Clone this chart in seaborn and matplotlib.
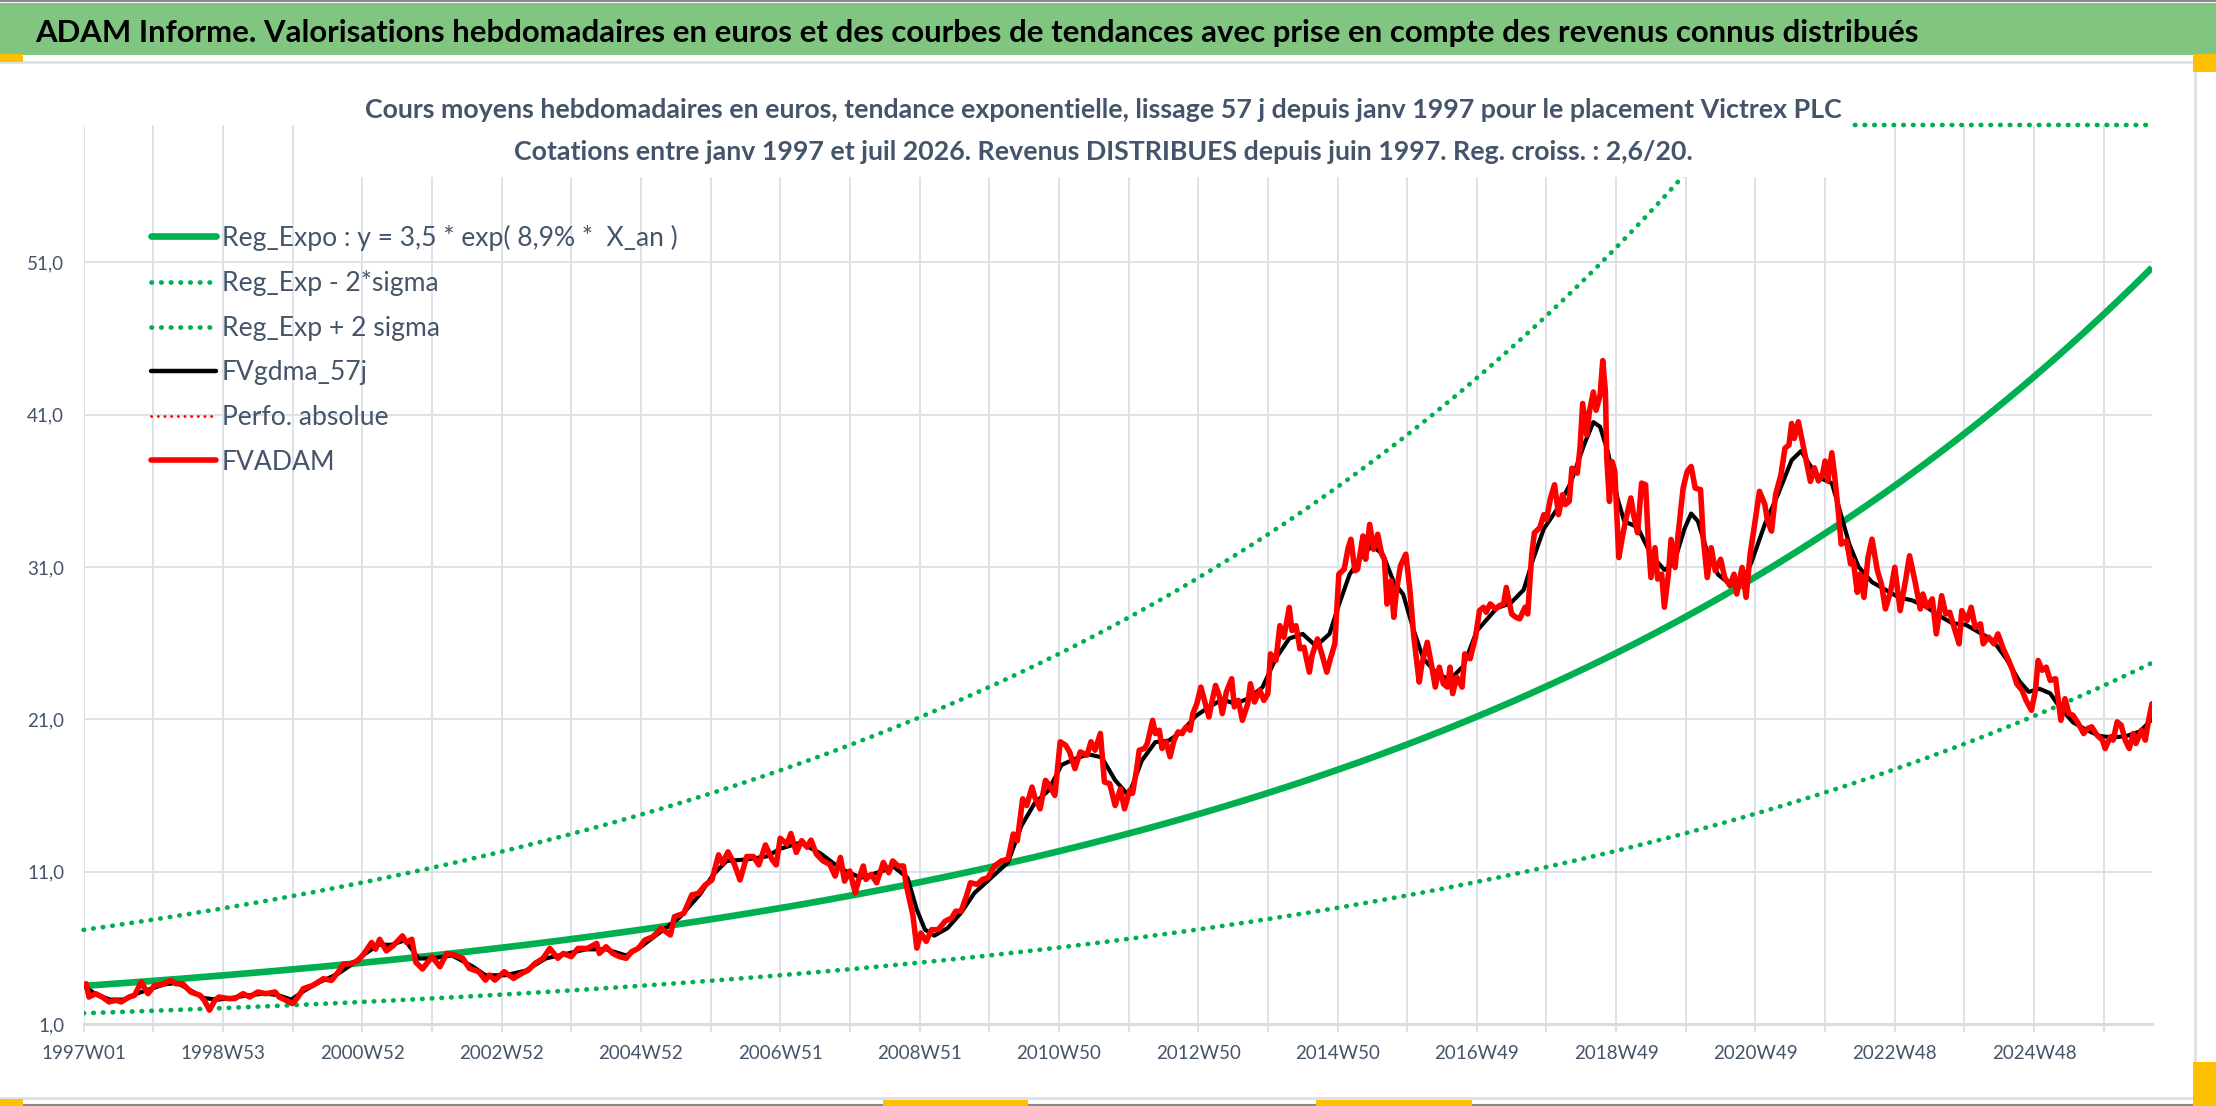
import numpy as np
import pandas as pd
import matplotlib
matplotlib.use("Agg")
import matplotlib.pyplot as plt
import seaborn as sns
from matplotlib import font_manager
from matplotlib.lines import Line2D
from matplotlib.patches import Rectangle

# ---------------- data ----------------
TITLE = ("ADAM Informe. Valorisations hebdomadaires en euros et des courbes de tendances "
         "avec prise en compte des revenus connus distribués")
SUBTITLE_1 = ("Cours moyens hebdomadaires en euros, tendance exponentielle, lissage 57 j "
              "depuis janv 1997 pour le placement Victrex PLC")
SUBTITLE_2 = ("Cotations entre janv 1997 et juil 2026. Revenus DISTRIBUES depuis juin 1997. "
              "Reg. croiss. : 2,6/20.")

SERIES_LABELS = ["Reg_Expo : y = 3,5 * exp( 8,9% *  X_an )", "Reg_Exp - 2*sigma",
                 "Reg_Exp + 2 sigma", "FVgdma_57j", "Perfo. absolue", "FVADAM"]

X_TICK_LABELS = ["1997W01", "1998W53", "2000W52", "2002W52", "2004W52", "2006W51",
                 "2008W51", "2010W50", "2012W50", "2014W50", "2016W49", "2018W49",
                 "2020W49", "2022W48", "2024W48"]
Y_TICKS = [1, 11, 21, 31, 41, 51]
Y_TICK_LABELS = ["1,0", "11,0", "21,0", "31,0", "41,0", "51,0"]

N_WEEKS = 1545          # 1997W01 .. juil 2026
WEEKS_PER_YEAR = 52.18
REG_A = 3.5             # regression start value
REG_RATE = 0.0903       # growth
SIGMA_FACTOR = 2.05     # exp(2*sigma), ratio between the trend and the dotted bands
Y_MIN, Y_MAX = 1.0, 60.0

# FVADAM (red) : week index -> value
RED_WEEKS = [0, 2, 4, 9, 14, 19, 24, 28, 34, 38, 43, 48, 53, 59, 65, 69, 74, 80, 87, 90,
             94, 98, 101, 108, 113, 119, 124, 130, 136, 143, 146, 151, 156, 160, 164, 171,
             179, 185, 190, 194, 199, 205, 210, 215, 218, 221, 226, 231, 238, 241, 245, 248,
             253, 260, 266, 271, 277, 283, 288, 295, 300, 303, 307, 314, 321, 327, 332, 337,
             343, 348, 354, 358, 364, 369, 376, 383, 385, 390, 395, 400, 405, 409, 414, 419,
             425, 431, 438, 441, 448, 454, 459, 464, 469, 474, 477, 481, 486, 490, 495, 500,
             504, 509, 514, 517, 520, 525, 528, 532, 536, 540, 543, 547, 552, 557, 561, 565,
             568, 572, 576, 579, 582, 584, 588, 592, 597, 601, 604, 608, 612, 614, 617, 619,
             622, 625, 629, 633, 638, 643, 648, 651, 655, 659, 662, 667, 671, 675, 680, 685,
             690, 694, 697, 701, 704, 708, 710, 714, 718, 721, 725, 729, 733, 736, 740, 744,
             749, 752, 755, 759, 762, 766, 770, 774, 777, 781, 783, 786, 788, 792, 794, 798,
             800, 803, 805, 808, 811, 814, 817, 820, 823, 826, 828, 831, 834, 838, 840, 843,
             845, 848, 850, 853, 857, 859, 862, 865, 869, 871, 874, 878, 881, 884, 886, 890,
             893, 896, 900, 902, 905, 908, 911, 915, 917, 921, 925, 928, 931, 934, 937, 941,
             944, 946, 949, 951, 955, 957, 960, 963, 966, 969, 971, 973, 976, 978, 980, 983,
             987, 990, 993, 997, 999, 1003, 1006, 1009, 1012, 1015, 1018, 1020, 1022, 1025,
             1029, 1031, 1035, 1039, 1042, 1045, 1047, 1050, 1054, 1057, 1060, 1062, 1066,
             1069, 1072, 1076, 1078, 1081, 1083, 1087, 1090, 1092, 1095, 1098, 1101, 1104,
             1106, 1109, 1111, 1115, 1117, 1119, 1122, 1124, 1127, 1129, 1132, 1134, 1136,
             1137, 1139, 1141, 1143, 1146, 1149, 1152, 1155, 1157, 1160, 1163, 1166, 1168,
             1170, 1173, 1175, 1178, 1180, 1183, 1185, 1188, 1190, 1194, 1197, 1200, 1203,
             1207, 1209, 1212, 1215, 1218, 1222, 1225, 1229, 1232, 1234, 1238, 1241, 1244,
             1247, 1251, 1255, 1257, 1260, 1263, 1267, 1270, 1273, 1275, 1277, 1280, 1283,
             1286, 1289, 1292, 1295, 1298, 1300, 1302, 1305, 1307, 1310, 1312, 1316, 1319,
             1321, 1324, 1326, 1329, 1332, 1335, 1339, 1342, 1345, 1349, 1352, 1356, 1360,
             1363, 1367, 1371, 1373, 1376, 1380, 1383, 1387, 1390, 1393, 1397, 1400, 1402,
             1406, 1409, 1412, 1416, 1418, 1422, 1426, 1429, 1433, 1437, 1440, 1443, 1447,
             1450, 1454, 1457, 1459, 1462, 1465, 1468, 1472, 1476, 1479, 1482, 1485, 1489,
             1493, 1496, 1499, 1503, 1507, 1509, 1513, 1515, 1518, 1521, 1524, 1527, 1530,
             1532, 1536, 1539, 1541, 1544]
RED_VALUES = [3.55, 3.64, 2.77, 2.99, 2.77, 2.45, 2.56, 2.45, 2.77, 2.88, 3.75, 2.99, 3.53,
              3.6, 3.86, 3.64, 3.64, 3.1, 2.88, 2.56, 1.91, 2.56, 2.77, 2.67, 2.67, 2.99, 2.77,
              3.1, 2.99, 3.1, 2.77, 2.56, 2.34, 2.77, 3.32, 3.53, 3.97, 3.86, 4.4, 4.94, 4.94,
              5.16, 5.7, 6.35, 5.91, 6.56, 5.8, 6.13, 6.78, 6.35, 6.56, 5.05, 4.61, 5.42, 4.76,
              5.63, 5.52, 5.31, 4.65, 4.43, 3.88, 4.21, 3.88, 4.43, 3.99, 4.32, 4.54, 4.98,
              5.31, 5.96, 5.31, 5.63, 5.42, 5.96, 5.96, 6.29, 5.63, 6.07, 5.63, 5.42, 5.31,
              5.74, 5.96, 6.51, 6.73, 7.28, 6.84, 8.04, 8.26, 9.47, 9.58, 10.12, 10.45, 12.1,
              11.55, 12.3, 11.44, 10.45, 11.99, 11.99, 11.44, 12.75, 11.77, 11.44, 13.19, 12.8,
              13.5, 12.26, 13.03, 12.6, 13.07, 12.15, 11.7, 11.48, 10.71, 11.93, 10.38, 11.04,
              9.61, 10.6, 11.37, 10.49, 10.82, 10.27, 11.6, 10.93, 11.7, 11.37, 11.37, 10.16,
              8.95, 8.18, 5.98, 6.97, 6.42, 7.19, 7.19, 7.74, 7.96, 8.4, 8.4, 9.39, 10.27,
              10.16, 10.49, 10.6, 11.37, 11.7, 11.81, 13.47, 13.03, 15.78, 15.34, 16.55, 15.89,
              15.12, 16.99, 16.66, 16.0, 19.52, 19.3, 18.86, 17.76, 18.86, 18.64, 19.52, 18.97,
              20.07, 16.88, 16.77, 15.34, 16.44, 15.12, 16.36, 16.14, 17.67, 18.97, 19.08,
              19.41, 20.93, 20.06, 20.28, 19.08, 19.52, 18.54, 19.63, 20.17, 20.06, 20.5,
              20.28, 21.37, 22.02, 23.11, 21.81, 21.15, 22.46, 23.22, 22.46, 21.37, 22.78,
              23.66, 21.81, 22.24, 20.93, 22.02, 23.33, 22.13, 22.9, 22.24, 22.68, 25.29,
              24.86, 27.14, 26.38, 28.34, 26.82, 27.14, 25.62, 25.73, 24.09, 25.18, 26.27,
              25.07, 24.09, 25.07, 25.95, 30.52, 30.85, 32.26, 32.81, 30.74, 30.85, 33.03,
              31.5, 33.79, 32.15, 33.14, 31.83, 31.5, 28.56, 30.08, 27.69, 29.43, 31.07, 31.83,
              29.54, 26.38, 23.44, 24.64, 26.05, 24.64, 23.11, 24.42, 23.33, 23.11, 24.42,
              22.68, 23.77, 23.11, 25.29, 24.97, 26.38, 28.13, 28.35, 28.02, 28.57, 28.24,
              28.46, 28.57, 29.65, 27.91, 27.7, 27.59, 28.35, 27.91, 31.83, 33.24, 33.57,
              34.43, 34.11, 35.52, 36.39, 34.43, 35.74, 35.09, 35.3, 37.48, 37.15, 38.78,
              41.72, 39.65, 41.17, 42.48, 41.28, 42.26, 44.54, 42.48, 38.13, 35.3, 37.91,
              37.26, 31.61, 33.13, 34.43, 35.52, 34.43, 33.24, 36.5, 36.39, 32.7, 30.3, 32.26,
              30.2, 30.52, 28.35, 30.52, 32.8, 30.96, 32.91, 36.17, 37.26, 37.59, 36.17, 36.07,
              32.91, 30.3, 32.26, 30.74, 31.5, 30.3, 29.76, 30.52, 29.22, 30.96, 29.0, 31.83,
              33.57, 35.96, 35.09, 34.0, 33.35, 35.74, 37.04, 38.78, 39.0, 40.41, 39.43, 40.52,
              39.22, 37.91, 36.61, 37.5, 36.64, 37.07, 37.95, 36.64, 38.49, 37.07, 34.46,
              32.49, 32.71, 31.19, 31.4, 29.33, 30.53, 29.0, 31.62, 32.82, 30.75, 29.88, 28.24,
              29.44, 30.97, 28.13, 30.09, 31.73, 30.09, 28.24, 29.22, 28.35, 28.9, 26.6, 29.11,
              27.91, 28.02, 26.82, 25.95, 28.13, 27.48, 28.35, 27.04, 27.26, 25.95, 26.39,
              25.95, 26.6, 25.62, 24.86, 24.21, 23.33, 22.9, 22.24, 21.59, 22.9, 24.86, 24.21,
              24.42, 23.55, 23.66, 20.93, 22.35, 21.37, 21.26, 20.72, 20.06, 20.4, 20.5, 19.95,
              19.63, 19.08, 19.85, 19.63, 20.83, 20.61, 19.63, 19.08, 20.06, 19.41, 20.28,
              19.63, 20.72, 22.02]

# FVgdma_57j (black, smoothed) : week index -> value
BLACK_WEEKS = [0, 10, 20, 30, 40, 50, 60, 70, 80, 90, 100, 110, 120, 135, 145, 155, 165, 175,
               190, 200, 210, 220, 230, 240, 250, 260, 275, 290, 300, 315, 330, 345, 360, 375,
               390, 405, 415, 430, 445, 460, 470, 480, 495, 510, 520, 535, 550, 565, 580, 595,
               605, 615, 622, 628, 635, 645, 655, 665, 675, 690, 700, 710, 720, 730, 740, 750,
               760, 770, 780, 790, 800, 810, 820, 830, 840, 850, 860, 870, 880, 890, 900, 910,
               920, 930, 937, 945, 955, 962, 970, 978, 985, 993, 1000, 1010, 1020, 1030, 1040,
               1055, 1065, 1075, 1082, 1090, 1100, 1110, 1120, 1127, 1132, 1138, 1145, 1150,
               1160, 1170, 1180, 1187, 1195, 1200, 1205, 1212, 1220, 1230, 1238, 1245, 1255,
               1265, 1275, 1282, 1290, 1297, 1305, 1310, 1318, 1325, 1335, 1345, 1355, 1365,
               1375, 1385, 1395, 1405, 1415, 1425, 1435, 1445, 1452, 1460, 1468, 1475, 1485,
               1495, 1505, 1515, 1525, 1535, 1544]
BLACK_VALUES = [3.5, 2.9, 2.6, 2.6, 3.0, 3.3, 3.6, 3.7, 3.2, 2.7, 2.6, 2.7, 2.85, 3.0, 2.9,
                2.6, 3.2, 3.7, 4.3, 4.9, 5.6, 6.2, 6.2, 6.5, 5.3, 5.3, 5.5, 4.8, 4.2, 4.2, 4.5,
                5.3, 5.6, 5.9, 5.9, 5.5, 6.0, 7.0, 8.0, 9.5, 10.8, 11.7, 11.8, 12.0, 12.5, 12.9,
                12.2, 11.2, 10.6, 11.0, 11.3, 10.6, 8.5, 7.2, 6.8, 7.3, 8.3, 9.6, 10.4, 11.6,
                14.0, 15.5, 16.3, 18.0, 18.4, 18.7, 18.5, 17.0, 16.0, 18.3, 19.5, 19.6, 20.2,
                21.2, 21.8, 22.3, 22.0, 22.4, 23.1, 25.0, 26.3, 26.6, 25.8, 26.6, 28.5, 30.5,
                31.8, 32.4, 31.8, 30.0, 29.2, 26.8, 25.0, 24.0, 23.6, 24.5, 26.8, 28.3, 28.6,
                29.5, 31.5, 33.5, 34.8, 36.5, 39.0, 40.5, 40.2, 38.5, 35.5, 34.0, 33.6, 31.8,
                30.8, 31.2, 33.5, 34.5, 34.0, 32.0, 30.5, 29.8, 30.0, 31.3, 33.8, 35.8, 38.0,
                38.6, 37.5, 36.8, 36.5, 35.0, 32.5, 31.0, 30.0, 29.5, 29.0, 28.8, 28.4, 27.8,
                27.3, 27.2, 26.7, 26.2, 25.0, 23.5, 22.8, 23.0, 22.7, 21.8, 20.8, 20.3, 19.9,
                19.8, 19.9, 20.2, 21.0]

# ---------------- styling ----------------
GREEN = "#00B050"
RED = "#FF0000"
TEXT = "#44546A"
GRID = "#DEE1E7"
W_PX, H_PX = 2216, 1106

sns.set_theme(style="white")

# choose the narrowest installed sans family (the original uses a condensed font)
ttf = font_manager.fontManager.ttflist
names = {f.name for f in ttf}
candidates = []
for fam in ["Liberation Sans Narrow", "Lato", "Roboto", "Liberation Sans"]:
    if fam in names:
        candidates.append((fam, "normal"))
if any(f.name == "DejaVu Sans" and "ondensed" in f.fname for f in ttf):
    candidates.append(("DejaVu Sans", "condensed"))
if not candidates:
    candidates = [("DejaVu Sans", "normal")]

fig = plt.figure(figsize=(W_PX / 100, H_PX / 100), dpi=100)
fig.patch.set_facecolor("white")
renderer = fig.canvas.get_renderer()


def measure(s, size, weight="normal", fam=None, stretch=None):
    kw = {}
    if fam is not None:
        kw["family"] = [fam, "DejaVu Sans"]
    if stretch is not None:
        kw["fontstretch"] = stretch
    t = fig.text(0, 0, s, fontsize=size, fontweight=weight, **kw)
    bb = t.get_window_extent(renderer)
    t.remove()
    return bb.width, bb.height


best = min(candidates, key=lambda c: measure(SUBTITLE_1, 20, "bold", c[0], c[1])[0])
FONT, STRETCH = best
plt.rcParams["font.family"] = [FONT, "DejaVu Sans"]
plt.rcParams["font.stretch"] = STRETCH


def fit(s, target_px, weight="normal"):
    w, _ = measure(s, 20, weight)
    return 20 * target_px / w


FS_TITLE = fit(TITLE, 1882, "bold")
FS_SUB = fit(SUBTITLE_1, 1479, "bold")
FS_LEG = fit(SERIES_LABELS[0], 456)
FS_XT = fit("1997W01", 85)
FS_YT = fit("51,0", 37)


def fx(px):
    return px / W_PX


def fy(py):
    return 1 - py / H_PX


ax_left, ax_right, ax_top, ax_bottom = 83.6, 2152, 125, 1024
ax = fig.add_axes([fx(ax_left), fy(ax_bottom), fx(ax_right - ax_left),
                   (ax_bottom - ax_top) / H_PX])
ax.set_facecolor("none")

weeks = np.arange(N_WEEKS)
years = weeks / WEEKS_PER_YEAR
reg = REG_A * np.exp(REG_RATE * years)
reg_lo = reg / SIGMA_FACTOR
reg_hi = np.minimum(reg * SIGMA_FACTOR, Y_MAX)

dot_style = dict(linestyle=(0, (0.1, 1.95)), dash_capstyle="round", linewidth=3.4,
                 color=GREEN)

sns.lineplot(x=weeks, y=reg, ax=ax, color=GREEN, linewidth=4.8, solid_capstyle="butt",
             estimator=None, sort=False, zorder=3)
sns.lineplot(x=weeks, y=reg_lo, ax=ax, estimator=None, sort=False, zorder=3, **dot_style)
sns.lineplot(x=weeks, y=reg_hi, ax=ax, estimator=None, sort=False, zorder=3, clip_on=False,
             **dot_style)
sns.lineplot(x=BLACK_WEEKS, y=BLACK_VALUES, ax=ax, color="black", linewidth=3.0,
             estimator=None, sort=False, zorder=4)
sns.lineplot(x=RED_WEEKS, y=RED_VALUES, ax=ax, color=RED, linewidth=4.0,
             estimator=None, sort=False, zorder=5)

ax.set_xlim(0, N_WEEKS - 1)
ax.set_ylim(Y_MIN, Y_MAX)

xt = np.arange(0, N_WEEKS, 52)
ax.set_xticks(xt)
ax.set_xticklabels([X_TICK_LABELS[i // 2] if i % 2 == 0 else "" for i in range(len(xt))])
ax.set_yticks(Y_TICKS)
ax.set_yticklabels(Y_TICK_LABELS)
ax.tick_params(axis="x", direction="out", length=6, width=1.4, color=GRID, labelsize=FS_XT,
               labelcolor=TEXT, pad=9, bottom=True)
ax.tick_params(axis="y", length=0, labelsize=FS_YT, labelcolor=TEXT, pad=14)
ax.grid(True, color=GRID, linewidth=1.4)
ax.set_axisbelow(True)
for s in ["left", "right", "top"]:
    ax.spines[s].set_visible(False)
ax.spines["bottom"].set_color("#D9DCE2")
ax.spines["bottom"].set_linewidth(2.2)
ax.set_xlabel("")
ax.set_ylabel("")

# legend
handles = [
    Line2D([], [], color=GREEN, linewidth=4.8, solid_capstyle="round"),
    Line2D([], [], **dot_style),
    Line2D([], [], **dot_style),
    Line2D([], [], color="black", linewidth=3.2, solid_capstyle="round"),
    Line2D([], [], color=RED, linewidth=2.0, linestyle=(0, (0.1, 2.3)), dash_capstyle="round"),
    Line2D([], [], color=RED, linewidth=4.0, solid_capstyle="round"),
]
fs_leg_px = FS_LEG * 100 / 72
_, row_h = measure("Reg_Expo", FS_LEG)
ROW_STEP = 44.6
leg = ax.legend(handles, SERIES_LABELS, loc="upper left",
                bbox_to_anchor=(fx(151), fy(237 - row_h / 2)),
                bbox_transform=fig.transFigure, frameon=False, borderpad=0, borderaxespad=0,
                handlelength=65 / fs_leg_px, handletextpad=6 / fs_leg_px,
                labelspacing=max(ROW_STEP - row_h, 0) / fs_leg_px, fontsize=FS_LEG)
for t in leg.get_texts():
    t.set_color(TEXT)

# subtitle box (white, hides gridlines behind)
fig.add_artist(Rectangle((fx(353), fy(177)), fx(1850 - 353), (177 - 82) / H_PX,
                         transform=fig.transFigure, facecolor="white", edgecolor="none",
                         zorder=10))
fig.text(fx(1103), fy(118), SUBTITLE_1, ha="center", va="baseline", fontsize=FS_SUB,
         fontweight="bold", color=TEXT, zorder=11)
fig.text(fx(1103), fy(160), SUBTITLE_2, ha="center", va="baseline", fontsize=FS_SUB,
         fontweight="bold", color=TEXT, zorder=11)

# title banner
fig.add_artist(Rectangle((0, fy(55)), 1, (55 - 3) / H_PX, transform=fig.transFigure,
                         facecolor="#80C680", edgecolor="none", zorder=10))
fig.text(fx(35), fy(42), TITLE, ha="left", va="baseline", fontsize=FS_TITLE,
         fontweight="bold", color="black", zorder=11)


# frame lines
def hline(y, x0, x1, color, lw):
    fig.add_artist(Line2D([fx(x0), fx(x1)], [fy(y), fy(y)], transform=fig.transFigure,
                          color=color, linewidth=lw, zorder=12))


def vline(x, y0, y1, color, lw):
    fig.add_artist(Line2D([fx(x), fx(x)], [fy(y0), fy(y1)], transform=fig.transFigure,
                          color=color, linewidth=lw, zorder=12))


hline(1, 0, W_PX, "#8A8A8A", 1.5)
hline(62, 0, 2195, "#DCDFE4", 2.0)
hline(1098, 0, 2195, "#DCDFE4", 2.0)
vline(2195, 62, 1098, "#DCDFE4", 2.0)
hline(1105, 0, W_PX, "#8A8A8A", 1.5)

# selection handles (yellow)
for (x0, y0, x1, y1) in [(0, 54, 23, 62), (2193, 54, 2216, 72), (0, 1099, 23, 1106),
                         (883, 1100, 1028, 1106), (1316, 1100, 1472, 1106),
                         (2193, 1062, 2216, 1106)]:
    fig.add_artist(Rectangle((fx(x0), fy(y1)), fx(x1 - x0), (y1 - y0) / H_PX,
                             transform=fig.transFigure, facecolor="#FFC000",
                             edgecolor="none", zorder=13))

fig.savefig("out.png", dpi=100)
